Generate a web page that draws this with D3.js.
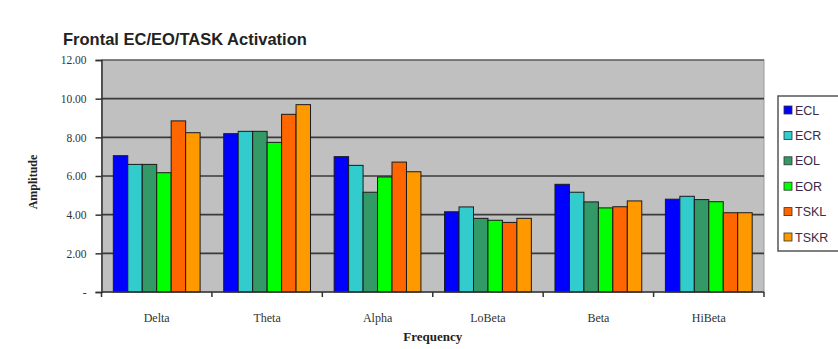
<!DOCTYPE html>
<html>
<head>
<meta charset="utf-8">
<script src="https://cdn.jsdelivr.net/npm/d3@7"></script>
<style>
  body { margin: 0; background: #fff; }
  svg { display: block; }
</style>
</head>
<body>
<svg></svg>
<script>
const CATEGORIES = ['Delta', 'Theta', 'Alpha', 'LoBeta', 'Beta', 'HiBeta'];
const SERIES = ['ECL', 'ECR', 'EOL', 'EOR', 'TSKL', 'TSKR'];
const COLORS = ['#0000ff', '#33cccc', '#339966', '#00ff00', '#ff6600', '#ff9900'];

const ECL = [7.05, 8.19, 7.00, 4.15, 5.57, 4.80];
const ECR = [6.60, 8.31, 6.55, 4.40, 5.16, 4.95];
const EOL = [6.60, 8.31, 5.16, 3.81, 4.66, 4.78];
const EOR = [6.17, 7.74, 5.95, 3.71, 4.35, 4.67];
const TSKL = [8.85, 9.19, 6.72, 3.60, 4.41, 4.10];
const TSKR = [8.24, 9.69, 6.22, 3.81, 4.71, 4.10];
const VALUES = [ECL, ECR, EOL, EOR, TSKL, TSKR];

const Y_TICKS = [0, 2, 4, 6, 8, 10, 12];

const WIDTH = 838;
const HEIGHT = 349;
const PLOT = { left: 101.5, right: 764, top: 60, bottom: 292 };

const svg = d3.select('svg')
    .attr('width', WIDTH)
    .attr('height', HEIGHT);

const x = d3.scaleBand()
    .domain(CATEGORIES)
    .range([PLOT.left, PLOT.right])
    .paddingInner(0.214)
    .paddingOuter(0.107);

const xs = d3.scaleBand()
    .domain(SERIES)
    .range([0, x.bandwidth()]);

const y = d3.scaleLinear()
    .domain([0, 12])
    .range([PLOT.bottom, PLOT.top]);

// plot background
svg.append('rect')
    .attr('x', PLOT.left)
    .attr('y', PLOT.top)
    .attr('width', PLOT.right - PLOT.left)
    .attr('height', PLOT.bottom - PLOT.top)
    .attr('fill', '#c0c0c0')
    .attr('stroke', '#9a9a9a')
    .attr('stroke-width', 1);

// gridlines
svg.append('g')
    .selectAll('line')
    .data(Y_TICKS.filter(d => d > 0))
    .join('line')
    .attr('x1', PLOT.left)
    .attr('x2', PLOT.right)
    .attr('y1', d => y(d))
    .attr('y2', d => y(d))
    .attr('stroke', '#3a3a3a')
    .attr('stroke-width', d => d === 12 ? 1 : 1.6);

// bars
const rows = [];
CATEGORIES.forEach((c, i) => {
    SERIES.forEach((s, j) => rows.push({ cat: c, series: s, value: VALUES[j][i], color: COLORS[j] }));
});

svg.append('g')
    .selectAll('rect')
    .data(rows)
    .join('rect')
    .attr('x', d => x(d.cat) + xs(d.series))
    .attr('y', d => y(d.value))
    .attr('width', xs.bandwidth())
    .attr('height', d => y(0) - y(d.value))
    .attr('fill', d => d.color)
    .attr('stroke', '#1a1a1a')
    .attr('stroke-width', 1);

// y axis
const yAxis = svg.append('g')
    .attr('transform', `translate(${PLOT.left},0)`)
    .call(d3.axisLeft(y).tickValues(Y_TICKS).tickSize(6).tickPadding(9)
        .tickFormat(d => d === 0 ? '-' : d3.format('.2f')(d)));
yAxis.select('.domain').attr('stroke', '#333').attr('stroke-width', 1.5);
yAxis.selectAll('.tick line').attr('stroke', '#333').attr('stroke-width', 1.5);
yAxis.selectAll('text')
    .attr('font-family', '"Liberation Serif", "Times New Roman", serif')
    .attr('font-size', 11.5)
    .attr('fill', '#333');

// x axis
const tickPositions = d3.range(CATEGORIES.length + 1)
    .map(i => PLOT.left + i * (PLOT.right - PLOT.left) / CATEGORIES.length);
const xAxis = svg.append('g');
xAxis.append('line')
    .attr('x1', PLOT.left)
    .attr('x2', PLOT.right)
    .attr('y1', PLOT.bottom)
    .attr('y2', PLOT.bottom)
    .attr('stroke', '#333')
    .attr('stroke-width', 1.5);
xAxis.selectAll('.tk')
    .data(tickPositions)
    .join('line')
    .attr('class', 'tk')
    .attr('x1', d => d)
    .attr('x2', d => d)
    .attr('y1', PLOT.bottom)
    .attr('y2', PLOT.bottom + 5)
    .attr('stroke', '#333')
    .attr('stroke-width', 1.5);
xAxis.selectAll('text')
    .data(CATEGORIES)
    .join('text')
    .attr('x', d => x(d) + x.bandwidth() / 2)
    .attr('y', 322)
    .attr('text-anchor', 'middle')
    .attr('font-family', '"Liberation Serif", "Times New Roman", serif')
    .attr('font-size', 12)
    .attr('fill', '#333')
    .text(d => d);

// axis titles
svg.append('text')
    .attr('x', (PLOT.left + PLOT.right) / 2)
    .attr('y', 341)
    .attr('text-anchor', 'middle')
    .attr('font-family', '"Liberation Serif", "Times New Roman", serif')
    .attr('font-weight', 'bold')
    .attr('font-size', 13)
    .attr('fill', '#222')
    .text('Frequency');

svg.append('text')
    .attr('transform', 'translate(37,182) rotate(-90)')
    .attr('text-anchor', 'middle')
    .attr('font-family', '"Liberation Serif", "Times New Roman", serif')
    .attr('font-weight', 'bold')
    .attr('font-size', 12)
    .attr('fill', '#222')
    .text('Amplitude');

// title
svg.append('text')
    .attr('x', 63)
    .attr('y', 45)
    .attr('font-family', '"Liberation Sans", Arial, sans-serif')
    .attr('font-weight', 'bold')
    .attr('font-size', 16.5)
    .attr('fill', '#222')
    .text('Frontal EC/EO/TASK Activation');

// legend
const legend = svg.append('g');
legend.append('rect')
    .attr('x', 778)
    .attr('y', 96)
    .attr('width', 70)
    .attr('height', 155)
    .attr('fill', '#fff')
    .attr('stroke', '#555')
    .attr('stroke-width', 1.5);

const items = legend.selectAll('.item')
    .data(SERIES)
    .join('g')
    .attr('class', 'item')
    .attr('transform', (d, i) => `translate(784,${110 + i * 25.4})`);
items.append('rect')
    .attr('x', 0)
    .attr('y', -4)
    .attr('width', 8)
    .attr('height', 8)
    .attr('fill', (d, i) => COLORS[i])
    .attr('stroke', '#333')
    .attr('stroke-width', 0.8);
items.append('text')
    .attr('x', 11)
    .attr('y', 4.5)
    .attr('font-family', '"Liberation Sans", Arial, sans-serif')
    .attr('font-size', 12.5)
    .attr('fill', '#3a2a4a')
    .text(d => d);
</script>
</body>
</html>
